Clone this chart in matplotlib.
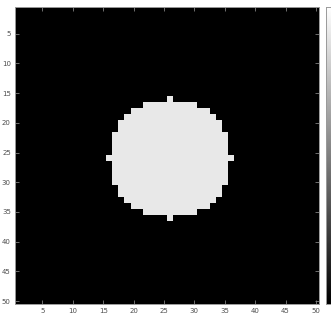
import numpy as np
from matplotlib import pyplot as plt

# 50x50 binary image, a filled disk; rows listed with half-widths around column 26
n = 50
center_col = 26
disk_rows = [16, 17, 18, 19, 20, 21, 22, 23, 24, 25, 26, 27, 28, 29, 30, 31, 32, 33, 34, 35, 36]
half_widths = [0, 4, 6, 7, 8, 8, 9, 9, 9, 9, 10, 9, 9, 9, 9, 8, 8, 7, 6, 4, 0]
disk_value = 0.91
ticks = [5, 10, 15, 20, 25, 30, 35, 40, 45, 50]

img = np.zeros((n, n))
for r, hw in zip(disk_rows, half_widths):
    img[r - 1, center_col - 1 - hw:center_col + hw] = disk_value

fig = plt.figure(figsize=(3.31, 3.21), dpi=100)
W, H = 331, 321
ax = fig.add_axes([15 / W, (H - 304) / H, 304 / W, 297 / H])
ax.imshow(img, cmap='gray', vmin=0, vmax=1, extent=(0.5, n + 0.5, n + 0.5, 0.5),
          aspect='auto', interpolation='nearest')
ax.set_xticks(ticks)
ax.set_yticks(ticks)
ax.tick_params(direction='in', length=3, width=0.6, color='#808080', labelsize=5,
               labelcolor='#4d4d4d', pad=3, top=True, right=True)
for s in ax.spines.values():
    s.set_color('#9a9a9a')
    s.set_linewidth(0.7)

# colorbar, mostly cut off at the right edge
cax = fig.add_axes([326 / W, (H - 304) / H, 18 / W, 297 / H])
grad = np.linspace(1, 0, 256).reshape(-1, 1)
cax.imshow(grad, cmap='gray', aspect='auto', extent=(0, 1, 0, 1))
cax.set_xticks([])
cax.set_yticks([])
for s in cax.spines.values():
    s.set_color('#9a9a9a')
    s.set_linewidth(0.7)

fig.savefig('out.png', dpi=100)
